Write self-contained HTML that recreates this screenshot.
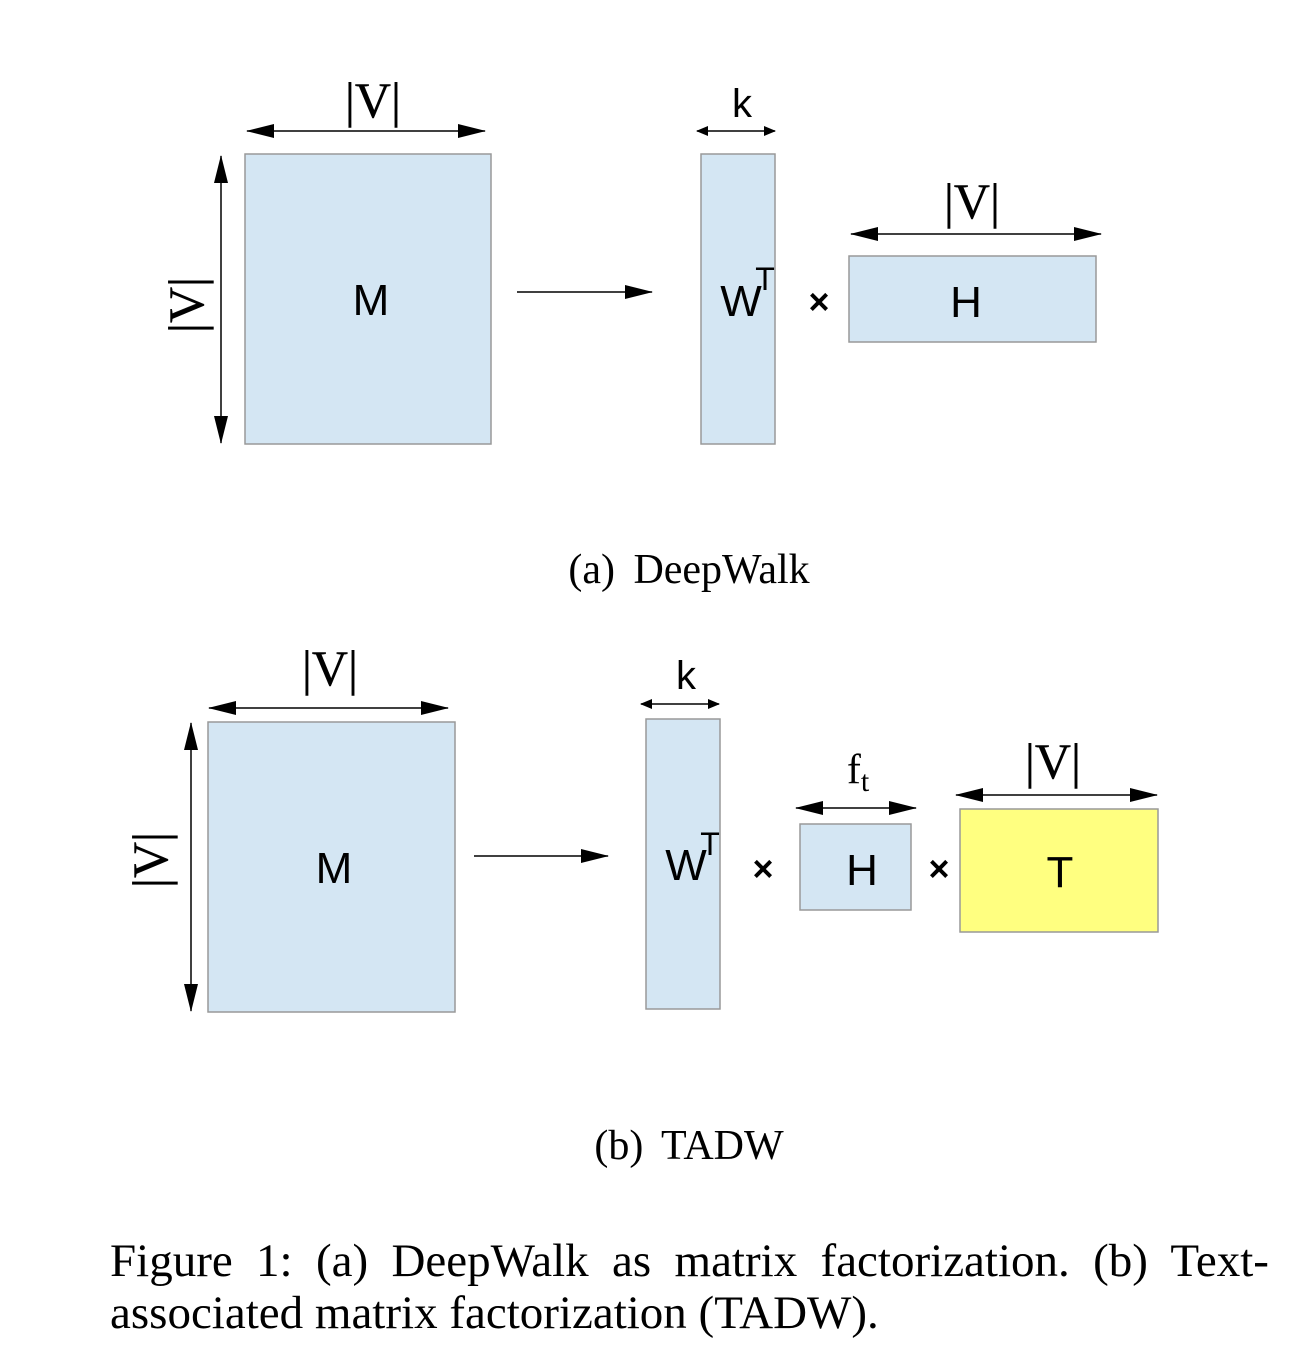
<!DOCTYPE html>
<html><head><meta charset="utf-8"><style>
html,body{margin:0;padding:0;background:#fff;width:1292px;height:1364px;overflow:hidden}
svg{display:block}
.serif{font-family:"Liberation Serif",serif}
.sans{font-family:"Liberation Sans",sans-serif}
.bar{stroke:#000;stroke-width:0.4}
</style></head><body>
<svg width="1292" height="1364" viewBox="0 0 1292 1364">
<defs>
<marker id="ah" markerWidth="12" markerHeight="10" refX="11" refY="5" orient="auto-start-reverse" markerUnits="userSpaceOnUse">
<path d="M0,0 L12,5 L0,10 Z" fill="#000"/></marker>
<marker id="ahv" markerWidth="28" markerHeight="14" refX="27" refY="7" orient="auto-start-reverse" markerUnits="userSpaceOnUse">
<path d="M0,0 L28,7 L0,14 Z" fill="#000"/></marker>
</defs>
<g>
<rect x="245" y="154" width="246" height="290" fill="#d4e6f3" stroke="#999" stroke-width="1.5"/>
<line x1="247" y1="131" x2="485" y2="131" stroke="#000" stroke-width="1.5" marker-start="url(#ahv)" marker-end="url(#ahv)"/>
<text class="serif bar" x="373" y="117" font-size="50" text-anchor="middle">|V|</text>
<line x1="221" y1="156" x2="221" y2="443" stroke="#000" stroke-width="1.5" marker-start="url(#ahv)" marker-end="url(#ahv)"/>
<text class="serif bar" font-size="50" text-anchor="middle" transform="translate(203,305) rotate(-90)">|V|</text>
<text class="sans" x="371" y="315" font-size="44" text-anchor="middle">M</text>
<line x1="517" y1="292" x2="652" y2="292" stroke="#000" stroke-width="1.5" marker-end="url(#ahv)"/>
<rect x="701" y="154" width="74" height="290" fill="#d4e6f3" stroke="#999" stroke-width="1.5"/>
<line x1="697" y1="131" x2="775" y2="131" stroke="#000" stroke-width="1.5" marker-start="url(#ah)" marker-end="url(#ah)"/>
<text class="sans" x="742" y="117" font-size="40" text-anchor="middle">k</text>
<text class="sans" x="741" y="316" font-size="44" text-anchor="middle">W</text>
<text class="sans" x="765" y="290" font-size="32" text-anchor="middle">T</text>
<text class="sans" x="819" y="314" font-size="36" font-weight="bold" text-anchor="middle">×</text>
<rect x="849" y="256" width="247" height="86" fill="#d4e6f3" stroke="#999" stroke-width="1.5"/>
<line x1="851" y1="234" x2="1101" y2="234" stroke="#000" stroke-width="1.5" marker-start="url(#ahv)" marker-end="url(#ahv)"/>
<text class="serif bar" x="972" y="218" font-size="50" text-anchor="middle">|V|</text>
<text class="sans" x="966" y="317" font-size="44" text-anchor="middle">H</text>
<text class="serif" x="689" y="583" font-size="42" word-spacing="8" text-anchor="middle">(a) DeepWalk</text>
</g>
<g>
<rect x="208" y="722" width="247" height="290" fill="#d4e6f3" stroke="#999" stroke-width="1.5"/>
<line x1="209" y1="708" x2="448" y2="708" stroke="#000" stroke-width="1.5" marker-start="url(#ahv)" marker-end="url(#ahv)"/>
<text class="serif bar" x="330" y="685" font-size="50" text-anchor="middle">|V|</text>
<line x1="191" y1="723" x2="191" y2="1011" stroke="#000" stroke-width="1.5" marker-start="url(#ahv)" marker-end="url(#ahv)"/>
<text class="serif bar" font-size="50" text-anchor="middle" transform="translate(167,860) rotate(-90)">|V|</text>
<text class="sans" x="334" y="883" font-size="44" text-anchor="middle">M</text>
<line x1="474" y1="856" x2="608" y2="856" stroke="#000" stroke-width="1.5" marker-end="url(#ahv)"/>
<rect x="646" y="719" width="74" height="290" fill="#d4e6f3" stroke="#999" stroke-width="1.5"/>
<line x1="641" y1="704" x2="719" y2="704" stroke="#000" stroke-width="1.5" marker-start="url(#ah)" marker-end="url(#ah)"/>
<text class="sans" x="686" y="689" font-size="40" text-anchor="middle">k</text>
<text class="sans" x="686" y="880" font-size="44" text-anchor="middle">W</text>
<text class="sans" x="710" y="855" font-size="32" text-anchor="middle">T</text>
<text class="sans" x="763" y="881" font-size="36" font-weight="bold" text-anchor="middle">×</text>
<rect x="800" y="824" width="111" height="86" fill="#d4e6f3" stroke="#999" stroke-width="1.5"/>
<line x1="796" y1="808" x2="916" y2="808" stroke="#000" stroke-width="1.5" marker-start="url(#ahv)" marker-end="url(#ahv)"/>
<text class="serif" x="858" y="783" font-size="42" text-anchor="middle">f<tspan font-size="30" dy="8">t</tspan></text>
<text class="sans" x="862" y="885" font-size="44" text-anchor="middle">H</text>
<text class="sans" x="939" y="881" font-size="36" font-weight="bold" text-anchor="middle">×</text>
<rect x="960" y="809" width="198" height="123" fill="#ffff80" stroke="#999" stroke-width="1.5"/>
<line x1="956" y1="795" x2="1157" y2="795" stroke="#000" stroke-width="1.5" marker-start="url(#ahv)" marker-end="url(#ahv)"/>
<text class="serif bar" x="1053" y="778" font-size="50" text-anchor="middle">|V|</text>
<text class="sans" x="1060" y="887" font-size="44" text-anchor="middle">T</text>
<text class="serif" x="689" y="1159" font-size="42" word-spacing="8" text-anchor="middle">(b) TADW</text>
</g>
<text class="serif" x="110" y="1276" font-size="47" word-spacing="11.6">Figure 1: (a) DeepWalk as matrix factorization.  (b) Text-</text>
<text class="serif" x="110" y="1328" font-size="47">associated matrix factorization (TADW).</text>
</svg>
</body></html>
